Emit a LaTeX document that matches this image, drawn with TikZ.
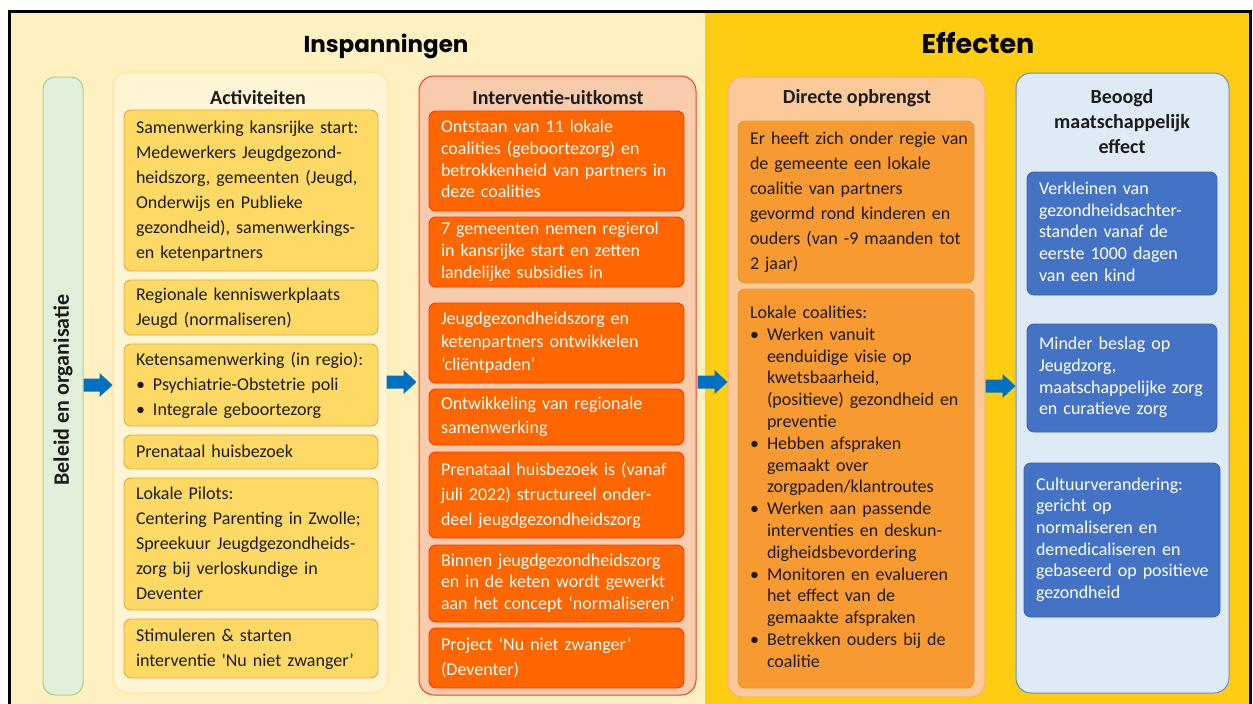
\documentclass[tikz,border=0pt]{standalone}
\usepackage{fontspec}
\setmainfont{Carlito}
\newfontfamily\titlefont{Poppins}
\definecolor{leftbg}{HTML}{FFF0C1}
\definecolor{rightbg}{HTML}{FFCC14}
\definecolor{actcont}{HTML}{FFF4D4}
\definecolor{actcontb}{HTML}{FFE38F}
\definecolor{actfill}{HTML}{FFD966}
\definecolor{actbord}{HTML}{D6AE45}
\definecolor{intcont}{HTML}{F9CBAD}
\definecolor{intcontb}{HTML}{F23A2A}
\definecolor{intfill}{HTML}{FF6600}
\definecolor{intbord}{HTML}{FF3300}
\definecolor{dircont}{HTML}{FCC99A}
\definecolor{dircontb}{HTML}{F7AE82}
\definecolor{dirfill}{HTML}{F89A32}
\definecolor{dirbord}{HTML}{D2A038}
\definecolor{beocont}{HTML}{DEEBF7}
\definecolor{beocontb}{HTML}{6E8CB8}
\definecolor{beofill}{HTML}{4472C4}
\definecolor{beobord}{HTML}{3A62AA}
\definecolor{greenfill}{HTML}{E2EFDA}
\definecolor{greenbord}{HTML}{A9D18E}
\definecolor{arrowblue}{HTML}{0070C0}
\definecolor{darktext}{HTML}{1C1C1C}
\newcommand\tb[1]{\noindent\begin{tabular}{@{}l@{}}#1\end{tabular}}
\newcommand\bul{\makebox[17pt][l]{\textbullet}}
\newcommand\ind{\hspace*{17pt}}
\newcommand\boxnode[7]{%
  \pgfmathsetmacro\bxw{#5-#3}%
  \pgfmathsetmacro\bxh{#6-#4}%
  \pgfmathsetmacro\bxt{#5-#3-24}%
  \pgfmathsetmacro\bxcx{(#3+#5)/2}%
  \pgfmathsetmacro\bxcy{(#4+#6)/2}%
  \node[#2, minimum width=\bxw pt, minimum height=\bxh pt, text width=\bxt pt] (#1) at (\bxcx,\bxcy) {#7};}
% block arrow from a named start point, pointing right, total length #2
\newcommand\blockarrow[2]{%
  \fill[arrowblue] (#1) ++(0,-6.5) -- ++({#2-13},0) -- ++(0,-5.5) -- ++(13,12)
     -- ++(-13,12) -- ++(0,-5.5) -- ++({-(#2-13)},0) -- cycle;}
\begin{document}
\begin{tikzpicture}[x=1pt,y=-1pt,
  ls/.style={font=\fontsize{18}{#1}\selectfont},
  basebox/.style={rounded corners=7pt, inner xsep=12pt, inner ysep=1pt, align=left, line width=0.9pt, ls=25},
  actbox/.style={basebox, fill=actfill, draw=actbord, text=darktext},
  intbox/.style={basebox, fill=intfill, draw=intbord, text=white},
  dirbox/.style={basebox, fill=dirfill, draw=dirbord, text=darktext},
  beobox/.style={basebox, fill=beofill, draw=beobord, text=white},
  container/.style={rounded corners=15pt, line width=1pt, inner sep=0pt},
  coltitle/.style={font=\bfseries\fontsize{20}{25}\selectfont, text=darktext, align=center},
  bigtitle/.style={font=\titlefont\bfseries\fontsize{#1}{28}\selectfont, text=black}
]
\useasboundingbox (0,0) rectangle (1253,704);
% panels
\fill[leftbg] (10,12) rectangle (705,704);
\fill[rightbg] (705,12) rectangle (1250,704);
\draw[line width=3pt] (9.5,11.5) rectangle (1250.5,730);
% big titles
\node[bigtitle=23] (insp) at (386,46) {Inspanningen};
\node[bigtitle=27] (eff) at (978,43) {Effecten};
% green bar
\boxnode{beleid}{container, rounded corners=12pt, fill=greenfill, draw=greenbord}{43}{77}{83}{695}{}
\node[rotate=90, font=\bfseries\fontsize{22}{26}\selectfont, text=darktext] (beleidT) at (63,390) {Beleid en organisatie};
% containers
\boxnode{act}{container, fill=actcont, draw=actcontb}{113}{72}{388}{693}{}
\boxnode{int}{container, fill=intcont, draw=intcontb}{419}{76}{696}{695}{}
\boxnode{dir}{container, fill=dircont, draw=dircontb}{728}{77}{985}{697}{}
\boxnode{beo}{container, fill=beocont, draw=beocontb}{1016}{73}{1229}{693}{}
% column titles
\node[coltitle] (actT) at (258,98) {Activiteiten};
\node[coltitle] (intT) at (558,98) {Interventie-uitkomst};
\node[coltitle] (dirT) at (857,98) {Directe opbrengst};
\node[coltitle] (beoT) at (1122,122) {Beoogd\\maatschappelijk\\effect};
% activities
\boxnode{a1}{actbox}{124}{110}{378}{271}{\tb{Samenwerking kansrijke start:\\Medewerkers Jeugdgezond-\\heidszorg, gemeenten (Jeugd,\\Onderwijs en Publieke\\gezondheid), samenwerkings-\\en ketenpartners}}
\boxnode{a2}{actbox}{124}{280}{378}{335}{\tb{Regionale kenniswerkplaats\\Jeugd (normaliseren)}}
\boxnode{a3}{actbox}{124}{344}{378}{426}{\tb{Ketensamenwerking (in regio):\\\bul Psychiatrie-Obstetrie poli\\\bul Integrale geboortezorg}}
\boxnode{a4}{actbox}{124}{435}{378}{469}{\tb{Prenataal huisbezoek}}
\boxnode{a5}{actbox}{124}{478}{378}{610}{\tb{Lokale Pilots:\\Centering Parenting in Zwolle;\\Spreekuur Jeugdgezondheids-\\zorg bij verloskundige in\\Deventer}}
\boxnode{a6}{actbox}{124}{619}{378}{678}{\tb{Stimuleren \& starten\\interventie \textquotesingle Nu niet zwanger’}}
% interventie-uitkomst
\boxnode{i1}{intbox, ls=21.7}{429}{111}{684}{211}{\tb{Ontstaan van 11 lokale\\coalities (geboortezorg) en\\betrokkenheid van partners in\\deze coalities}}
\boxnode{i2}{intbox, ls=22}{429}{217}{684}{287}{\tb{7 gemeenten nemen regierol\\in kansrijke start en zetten\\landelijke subsidies in}}
\boxnode{i3}{intbox, ls=23}{429}{303}{684}{383}{\tb{Jeugdgezondheidszorg en\\ketenpartners ontwikkelen\\‘cliëntpaden’}}
\boxnode{i4}{intbox, ls=24}{429}{389}{684}{445}{\tb{Ontwikkeling van regionale\\samenwerking}}
\boxnode{i5}{intbox, ls=25}{429}{452}{684}{538}{\tb{Prenataal huisbezoek is (vanaf\\juli 2022) structureel onder-\\deel jeugdgezondheidszorg}}
\boxnode{i6}{intbox, ls=21.7}{429}{545}{684}{622}{\tb{Binnen jeugdgezondheidszorg\\en in de keten wordt gewerkt\\aan het concept ‘normaliseren’}}
\boxnode{i7}{intbox, ls=24.5}{429}{628}{684}{688}{\tb{Project ‘Nu niet zwanger’\\(Deventer)}}
% directe opbrengst
\boxnode{d1}{dirbox, ls=25}{738}{121}{974}{283}{\tb{Er heeft zich onder regie van\\de gemeente een lokale\\coalitie van partners\\gevormd rond kinderen en\\ouders (van -9 maanden tot\\2 jaar)}}
\boxnode{d2}{dirbox, ls=21.8}{738}{289}{974}{688}{\tb{Lokale coalities:\\\bul Werken vanuit\\\ind eenduidige visie op\\\ind kwetsbaarheid,\\\ind (positieve) gezondheid en\\\ind preventie\\\bul Hebben afspraken\\\ind gemaakt over\\\ind zorgpaden/klantroutes\\\bul Werken aan passende\\\ind interventies en deskun-\\\ind digheidsbevordering\\\bul Monitoren en evalueren\\\ind het effect van de\\\ind gemaakte afspraken\\\bul Betrekken ouders bij de\\\ind coalitie}}
% beoogd maatschappelijk effect
\boxnode{b1}{beobox, ls=21.7}{1027}{172}{1217}{295}{\tb{Verkleinen van\\gezondheidsachter-\\standen vanaf de\\eerste 1000 dagen\\van een kind}}
\boxnode{b2}{beobox, ls=21.7}{1027}{324}{1217}{432}{\tb{Minder beslag op\\Jeugdzorg,\\maatschappelijke zorg\\en curatieve zorg}}
\boxnode{b3}{beobox, ls=21.7}{1024}{463}{1220}{617}{\tb{Cultuurverandering:\\gericht op\\normaliseren en\\demedicaliseren en\\gebaseerd op positieve\\gezondheid}}
% arrows between the columns
\coordinate (y1) at (0,385);
\coordinate (y2) at (0,382);
\coordinate (y3) at (0,382);
\coordinate (y4) at (0,386);
\coordinate (s1) at (beleid.east |- y1);
\coordinate (s2) at ([xshift=-2pt]act.east |- y2);
\coordinate (s3) at ([xshift=1pt]int.east |- y3);
\coordinate (s4) at (dir.east |- y4);
\blockarrow{s1}{29}
\blockarrow{s2}{30}
\blockarrow{s3}{30}
\blockarrow{s4}{30}
\end{tikzpicture}
\end{document}
